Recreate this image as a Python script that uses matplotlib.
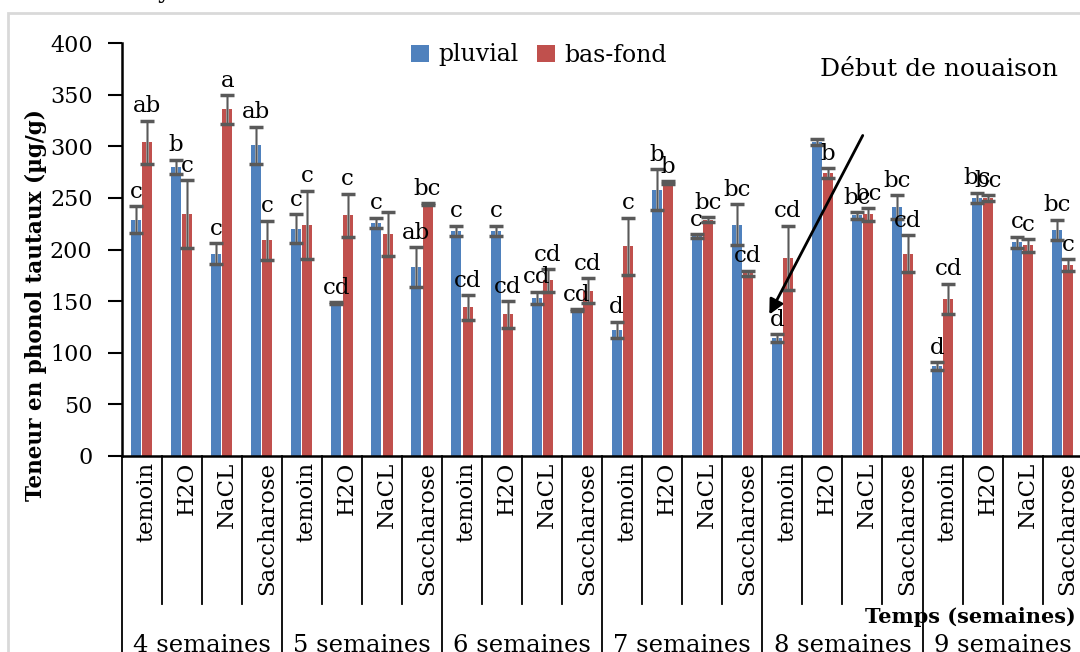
import matplotlib
matplotlib.use("Agg")
import matplotlib.pyplot as plt
from matplotlib.patches import Rectangle, Patch
import matplotlib.transforms as mtransforms
import numpy as np

plt.rcParams['font.family'] = ['DejaVu Serif']

treatments = ["temoin", "H2O", "NaCL", "Saccharose"]
weeks = ["4 semaines", "5 semaines", "6 semaines", "7 semaines", "8 semaines", "9 semaines"]

pluvial = [229, 280, 196, 301, 220, 148, 226, 183, 218, 218, 153, 141,
           122, 258, 213, 224, 114, 304, 233, 241, 87, 250, 207, 219]
pluvial_err = [13, 7, 10, 18, 14, 1, 5, 19, 5, 5, 6, 1,
               8, 20, 2, 20, 4, 3, 3.5, 11.5, 3.5, 5, 5.5, 10]
basfond = [304, 234, 336, 209, 224, 233, 215, 244, 144, 137, 170, 160,
           203, 265, 229, 177, 192, 274, 234, 196, 152, 250, 204, 185]
basfond_err = [21, 33, 14, 19, 33, 21, 21, 1, 12, 13, 11, 12,
               28, 1, 2.5, 2.5, 31, 5, 6, 18, 15, 2.5, 6, 5.5]

pluvial_lab = ["c", "b", "c", "ab", "c", "cd", "c", "ab", "c", "c", "cd", "cd",
               "d", "b", "c", "bc", "d", "", "bc", "bc", "d", "bc", "c", "bc"]
basfond_lab = ["ab", "c", "a", "c", "c", "c", "", "bc", "cd", "cd", "cd", "cd",
               "c", "b", "bc", "cd", "cd", "b", "bc", "cd", "cd", "bc", "c", "c"]

series_names = ["pluvial", "bas-fond"]
colors = ["#4F81BD", "#C0504D"]

W, H = 1080, 652
fig = plt.figure(figsize=(W / 100, H / 100), dpi=100)
fig.patch.set_facecolor("white")

# outer light frame
fig.patches.append(Rectangle((8 / W, -0.1), 1.2, 1 - 13 / H + 0.1, transform=fig.transFigure,
                             fill=False, edgecolor="#d9d9d9", lw=2.0, zorder=0))
fig.text(158 / W, 1 + 2 / H, "y", fontsize=17, va="baseline", ha="left")

ax_l, ax_r = 121.7, 1082.7
ax_t, ax_b = 43.3, 455.7
ax = fig.add_axes([ax_l / W, 1 - ax_b / H, (ax_r - ax_l) / W, (ax_b - ax_t) / H])

labels_cat = [t for _ in weeks for t in treatments]
n = len(labels_cat)
x = np.arange(n) + 0.5
bw = 0.25
off = 0.14

for vals, errs, labs, col, sgn in [(pluvial, pluvial_err, pluvial_lab, colors[0], -1),
                                   (basfond, basfond_err, basfond_lab, colors[1], 1)]:
    xs = x + sgn * off
    ax.bar(xs, vals, width=bw, color=col, zorder=2)
    ax.errorbar(xs, vals, yerr=errs, fmt="none", ecolor="#a0a0a0", elinewidth=2.0,
                capsize=0, zorder=3)
    ax.errorbar(xs, vals, yerr=errs, fmt="none", ecolor="#595959", elinewidth=0.8,
                capsize=5, capthick=2.5, zorder=4)
    for xi, v, e, lab in zip(xs, vals, errs, labs):
        if lab:
            ax.annotate(lab, (xi, v + e), xytext=(0, 6), textcoords="offset points",
                        ha="center", va="baseline", fontsize=16.5, zorder=5,
                        annotation_clip=False)

ax.set_xlim(0, n)
ax.set_ylim(0, 400)
ax.set_yticks(np.arange(0, 401, 50))
ax.tick_params(axis="y", direction="out", length=10, width=1.5, pad=11, labelsize=16)
ax.set_xticks([])
for s in ["top", "right"]:
    ax.spines[s].set_visible(False)
ax.spines["left"].set_linewidth(1.8)
ax.spines["bottom"].set_linewidth(1.8)

# multi-level category axis
trans = mtransforms.blended_transform_factory(ax.transData, ax.transAxes)
for i in range(n + 1):
    if i % 4 == 0:
        ax.plot([i, i], [0, -0.6], color="black", lw=1.3, transform=trans, clip_on=False)
    else:
        ax.plot([i, i], [0, -0.359], color="black", lw=1.3, transform=trans, clip_on=False)
for xi, lab in zip(x, labels_cat):
    ax.text(xi + 0.12, -0.015, lab, rotation=90, ha="center", va="top",
            fontsize=16.5, transform=trans)
for g, wk in enumerate(weeks):
    ax.text(g * 4 + 2, -0.46, wk, ha="center", va="center", fontsize=17.5, transform=trans)

fig.text(865 / W, 1 - 617 / H, "Temps (semaines)", fontsize=15, fontweight="bold",
         ha="left", va="center")
fig.text(36 / W, 1 - 305 / H, "Teneur en phonol tautaux (µg/g)", fontsize=15.5,
         fontweight="bold", rotation=90, ha="center", va="center")

# legend
handles = [Patch(facecolor=c) for c in colors]
ax.legend(handles, series_names, loc="center", bbox_to_anchor=(539 / W, 1 - 55 / H),
          bbox_transform=fig.transFigure, ncol=2, frameon=False, fontsize=17,
          handlelength=0.75, handleheight=0.75, handletextpad=0.4, columnspacing=0.8)

# annotation arrow
fig.text(820 / W, 1 - 70 / H, "Début de nouaison", fontsize=18, ha="left", va="center")
ax.annotate("", xy=((768 - ax_l) / 40.04, (ax_b - 317) / 1.031),
            xytext=((864 - ax_l) / 40.04, (ax_b - 133) / 1.031),
            arrowprops=dict(arrowstyle="-|>", color="black", lw=2, mutation_scale=22),
            zorder=6)

fig.savefig("out.png", dpi=100)
